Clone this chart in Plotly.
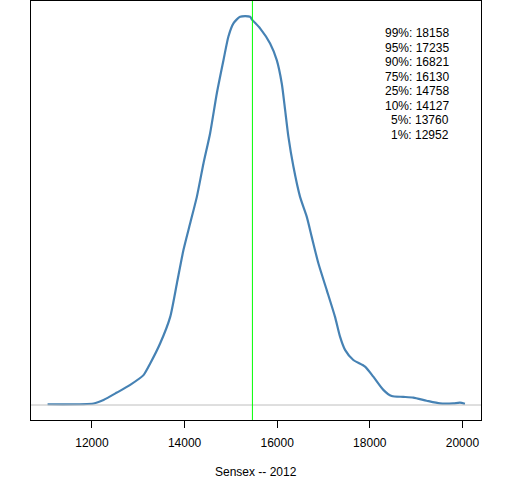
import plotly.graph_objects as go

# density curve of Sensex closing values (relative density, peak = 1)
sensex_level = [
    11042, 12035, 12250, 12539, 12826, 13113, 13258, 13474, 13690, 13834,
    13976, 14121, 14265, 14408, 14552, 14697, 14840, 14947, 15055, 15200,
    15415, 15452, 15631, 15847, 15991, 16099, 16171, 16242, 16350, 16494,
    16638, 16746, 16889, 17070, 17249, 17357, 17465, 17644, 17897, 18076,
    18292, 18472, 18723, 18939, 19227, 19514, 19802, 19946, 20054,
]
density = [
    0.002, 0.004, 0.013, 0.032, 0.052, 0.077, 0.107, 0.159, 0.227, 0.313,
    0.399, 0.468, 0.536, 0.622, 0.700, 0.803, 0.888, 0.949, 0.983, 1.000,
    1.000, 0.993, 0.970, 0.931, 0.888, 0.828, 0.760, 0.691, 0.614, 0.536,
    0.485, 0.433, 0.365, 0.296, 0.227, 0.176, 0.142, 0.116, 0.099, 0.073,
    0.039, 0.023, 0.021, 0.019, 0.011, 0.004, 0.004, 0.006, 0.003,
]
marker_value = 15465

quantile_labels = ["99%", "95%", "90%", "75%", "25%", "10%", "5%", "1%"]
quantile_values = [18158, 17235, 16821, 16130, 14758, 14127, 13760, 12952]

FONT = "Liberation Sans, Arial, sans-serif"

fig = go.Figure(
    data=go.Scatter(
        x=sensex_level,
        y=density,
        mode="lines",
        line=dict(color="#4682B4", width=2.2, shape="spline", smoothing=0.6),
        hoverinfo="skip",
    )
)

# zero line and marker line
fig.add_shape(type="line", xref="paper", x0=0, x1=1, y0=0, y1=0,
              line=dict(color="#BEBEBE", width=1))
fig.add_shape(type="line", yref="paper", x0=marker_value, x1=marker_value,
              y0=0, y1=1, line=dict(color="#00FF00", width=1))

# quantile table, right aligned
plot_h = 480 - 1 - 60
for i, (lab, val) in enumerate(zip(quantile_labels, quantile_values)):
    fig.add_annotation(
        xref="paper", yref="paper",
        x=(451 - 31) / 450, y=1 - (33 - 1 + i * 14.5) / plot_h,
        xanchor="right", yanchor="middle",
        text=f"{lab}: {val}", showarrow=False,
        font=dict(family=FONT, size=12, color="black"),
    )

fig.add_annotation(
    xref="paper", yref="paper", x=0.5, y=-(472 - 420) / plot_h,
    xanchor="center", yanchor="middle", text="Sensex -- 2012",
    showarrow=False, font=dict(family=FONT, size=12, color="black"),
)

fig.update_layout(
    width=512, height=480,
    margin=dict(l=31, r=31, t=1, b=60),
    plot_bgcolor="white", paper_bgcolor="white",
    showlegend=False,
    font=dict(family=FONT, size=12, color="black"),
)
fig.update_xaxes(
    range=[10684, 20401], tickvals=[12000, 14000, 16000, 18000, 20000],
    tickformat="d", ticklabelstandoff=5,
    ticks="outside", ticklen=7, tickcolor="black", tickwidth=1,
    showline=True, linecolor="black", linewidth=1, mirror=True,
    showgrid=False, zeroline=False,
    tickfont=dict(family=FONT, size=12, color="black"),
)
fig.update_yaxes(
    range=[-0.0386, 1.0404], showticklabels=False, ticks="",
    showline=True, linecolor="black", linewidth=1, mirror=True,
    showgrid=False, zeroline=False,
)

fig.write_html(
    "out.html",
    config={"displayModeBar": False},
    post_script="document.body.style.margin = '0';",
)
